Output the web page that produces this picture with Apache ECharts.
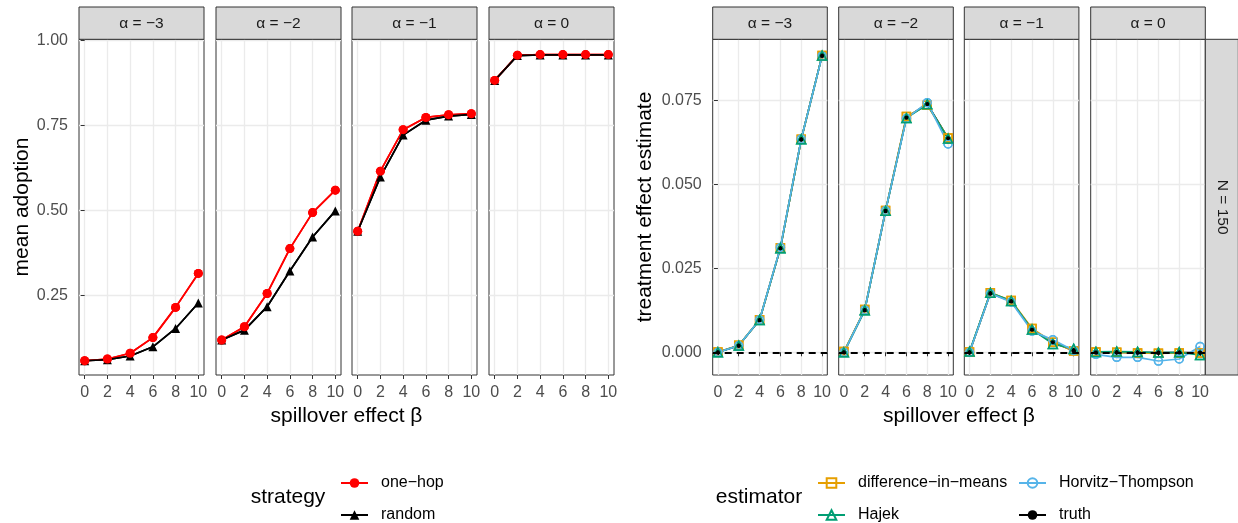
<!DOCTYPE html>
<html>
<head>
<meta charset="utf-8">
<script src="https://cdn.jsdelivr.net/npm/echarts@6/dist/echarts.min.js"></script>
<style>html,body{margin:0;padding:0;background:#fff;}#c{width:1238px;height:523px;}</style>
</head>
<body>
<div id="c"></div>
<script>
// ---- data ----
const beta = [0, 2, 4, 6, 8, 10];
const xTicks = [0, 2, 4, 6, 8, 10];
const panelLabels = ['α = −3', 'α = −2', 'α = −1', 'α = 0'];
const leftYTicks = [0.25, 0.50, 0.75, 1.00];
const rightYTicks = [0, 0.025, 0.05, 0.075];

// mean adoption (left)
const oneHopA3 = [0.057, 0.062, 0.079, 0.125, 0.214, 0.314];
const randomA3 = [0.057, 0.060, 0.071, 0.098, 0.152, 0.227];
const oneHopA2 = [0.118, 0.157, 0.255, 0.387, 0.493, 0.559];
const randomA2 = [0.118, 0.147, 0.216, 0.321, 0.421, 0.498];
const oneHopA1 = [0.438, 0.615, 0.737, 0.773, 0.781, 0.784];
const randomA1 = [0.438, 0.598, 0.721, 0.765, 0.777, 0.782];
const oneHopA0 = [0.882, 0.956, 0.958, 0.958, 0.958, 0.958];
const randomA0 = [0.882, 0.955, 0.957, 0.957, 0.957, 0.957];

// treatment effect estimates (right)
const truthA3 = [0.0000, 0.0020, 0.0096, 0.0310, 0.0634, 0.0883];
const dimA3   = [0.0001, 0.0021, 0.0097, 0.0311, 0.0634, 0.0883];
const hajekA3 = [0.0000, 0.0020, 0.0096, 0.0310, 0.0634, 0.0883];
const htA3    = [0.0000, 0.0020, 0.0097, 0.0312, 0.0635, 0.0882];
const truthA2 = [0.0000, 0.0126, 0.0421, 0.0699, 0.0739, 0.0637];
const dimA2   = [0.0002, 0.0127, 0.0422, 0.0702, 0.0735, 0.0638];
const hajekA2 = [0.0000, 0.0125, 0.0421, 0.0697, 0.0738, 0.0636];
const htA2    = [0.0000, 0.0126, 0.0422, 0.0696, 0.0743, 0.0620];
const truthA1 = [0.0000, 0.0176, 0.0152, 0.0068, 0.0030, 0.0005];
const dimA1   = [0.0001, 0.0177, 0.0154, 0.0071, 0.0030, 0.0004];
const hajekA1 = [0.0002, 0.0177, 0.0153, 0.0068, 0.0025, 0.0010];
const htA1    = [0.0000, 0.0175, 0.0150, 0.0063, 0.0037, 0.0005];
const truthA0 = [0.0000, 0.0000, -0.0001, -0.0001, -0.0001, -0.0001];
const dimA0   = [0.0001, 0.0000, -0.0002, -0.0003, -0.0002, -0.0002];
const hajekA0 = [0.0001, 0.0002, 0.0001, -0.0001, 0.0000, -0.0008];
const htA0    = [-0.0006, -0.0015, -0.0015, -0.0026, -0.0020, 0.0017];

const leftPanels = [[oneHopA3, randomA3], [oneHopA2, randomA2], [oneHopA1, randomA1], [oneHopA0, randomA0]];
const rightPanels = [[dimA3, hajekA3, htA3, truthA3], [dimA2, hajekA2, htA2, truthA2],
                     [dimA1, hajekA1, htA1, truthA1], [dimA0, hajekA0, htA0, truthA0]];

// ---- layout / style ----
const FONT = 'Liberation Sans, Arial, Helvetica, sans-serif';
const leftX = [79, 216, 352, 489], leftW = 125;
const rightX = [712.7, 838.7, 964.3, 1090.7], rightW = 114.6;
const panelTop = 39.3, panelH = 335.7;
const stripTop = 7, stripH = 32.3;

const NAMES = {oh: 'one−hop', rnd: 'random', dim: 'difference−in−means', haj: 'Hajek', ht: 'Horvitz−Thompson', tr: 'truth'};
const COL = {oh: '#FF0000', rnd: '#000000', dim: '#E69F00', haj: '#009E73', ht: '#56B4E9', tr: '#000000'};
const OPEN = {dim: true, haj: true, ht: true};

const grids = [], xAxes = [], yAxes = [], series = [], graphics = [];

function pts(vals) { return beta.map((b, k) => [b, vals[k]]); }

function addPanel(gi, x, w, isLeft, showY) {
  grids.push({left: x, top: panelTop, width: w, height: panelH, show: true,
    borderColor: '#333333', borderWidth: 1, backgroundColor: '#ffffff', containLabel: false});
  xAxes.push({type: 'value', gridIndex: gi, min: -0.5, max: 10.5,
    axisLine: {show: false},
    axisTick: {show: true, length: 4, lineStyle: {color: '#333333', width: 1}, customValues: xTicks},
    axisLabel: {show: true, customValues: xTicks, color: '#4D4D4D', fontSize: 16, fontFamily: FONT, margin: 10},
    splitLine: {show: true, lineStyle: {color: '#EBEBEB', width: 1.3}}
  });
  const yt = isLeft ? leftYTicks : rightYTicks;
  yAxes.push({type: 'value', gridIndex: gi,
    min: isLeft ? 0.015 : -0.00676, max: isLeft ? 1.003 : 0.09315,
    axisLine: {show: false},
    axisTick: {show: showY, length: 4, lineStyle: {color: '#333333', width: 1}, customValues: yt},
    axisLabel: {show: showY, customValues: yt, color: '#4D4D4D', fontSize: 16, fontFamily: FONT, margin: 11,
      formatter: v => isLeft ? v.toFixed(2) : v.toFixed(3)},
    splitLine: {show: true, lineStyle: {color: '#EBEBEB', width: 1.3}}
  });
  graphics.push({type: 'rect', shape: {x: x, y: stripTop, width: w, height: stripH},
    style: {fill: '#D9D9D9', stroke: '#333333', lineWidth: 1}, z: 10});
}

function mainSeries(key, vals, gi, symbol, size, extra) {
  const open = !!OPEN[key];
  return Object.assign({
    type: 'line', name: NAMES[key], xAxisIndex: gi, yAxisIndex: gi, data: pts(vals),
    symbol: symbol, symbolSize: size, showSymbol: true,
    lineStyle: {color: COL[key], width: 1.7},
    itemStyle: {color: open ? 'rgba(0,0,0,0)' : COL[key], borderColor: COL[key], borderWidth: open ? 1.5 : 0},
    emphasis: {disabled: true}, animation: false, silent: true
  }, extra || {});
}

// left panels
for (let p = 0; p < 4; p++) {
  const gi = p;
  addPanel(gi, leftX[p], leftW, true, p === 0);
  const [oh, rnd] = leftPanels[p];
  series.push(mainSeries('oh', oh, gi, 'circle', 9));
  series.push(mainSeries('rnd', rnd, gi, 'triangle', 9));
  // lines over the points; one-hop dots over the triangles
  series.push(mainSeries('oh', oh, gi, 'circle', 9, {lineStyle: {opacity: 0, width: 0}}));
  series.push(mainSeries('oh', oh, gi, 'none', 0, {showSymbol: false}));
  series.push(mainSeries('rnd', rnd, gi, 'none', 0, {showSymbol: false}));
}

// right panels
for (let p = 0; p < 4; p++) {
  const gi = 4 + p;
  addPanel(gi, rightX[p], rightW, false, p === 0);
  const [dim, haj, ht, tr] = rightPanels[p];
  series.push(mainSeries('tr', tr, gi, 'circle', 5, {
    markLine: {silent: true, symbol: 'none', animation: false, label: {show: false},
      lineStyle: {color: '#000000', width: 2, type: [7, 5], opacity: 1}, data: [{yAxis: 0}]}
  }));
  series.push(mainSeries('dim', dim, gi, 'rect', 8));
  series.push(mainSeries('haj', haj, gi, 'triangle', 9));
  series.push(mainSeries('ht', ht, gi, 'circle', 8));
  // points drawn over the lines
  const ptsOnly = {lineStyle: {opacity: 0, width: 0}};
  series.push(mainSeries('dim', dim, gi, 'rect', 8, ptsOnly));
  series.push(mainSeries('ht', ht, gi, 'circle', 8, ptsOnly));
  series.push(mainSeries('haj', haj, gi, 'triangle', 9, ptsOnly));
  series.push(mainSeries('tr', tr, gi, 'circle', 4, ptsOnly));
}

// strip labels
for (let p = 0; p < 4; p++) {
  graphics.push({type: 'text', x: leftX[p] + leftW / 2, y: stripTop + stripH / 2 + 0.5, z: 11,
    style: {text: panelLabels[p], fill: '#1A1A1A', font: '15.5px ' + FONT, align: 'center', verticalAlign: 'middle'}});
  graphics.push({type: 'text', x: rightX[p] + rightW / 2, y: stripTop + stripH / 2 + 0.5, z: 11,
    style: {text: panelLabels[p], fill: '#1A1A1A', font: '15.5px ' + FONT, align: 'center', verticalAlign: 'middle'}});
}
// right facet strip
graphics.push({type: 'rect', shape: {x: 1205.3, y: panelTop, width: 33, height: panelH},
  style: {fill: '#D9D9D9', stroke: '#333333', lineWidth: 1}, z: 10});
graphics.push({type: 'text', x: 1222, y: panelTop + panelH / 2, rotation: -Math.PI / 2, z: 11,
  style: {text: 'N = 150', fill: '#1A1A1A', font: '15.5px ' + FONT, align: 'center', verticalAlign: 'middle'}});

// axis titles
function txt(t, x, y, rot, size) {
  graphics.push({type: 'text', x: x, y: y, rotation: rot || 0, z: 11,
    style: {text: t, fill: '#000000', font: size + 'px ' + FONT, align: 'center', verticalAlign: 'middle'}});
}
txt('mean adoption', 22, 207, Math.PI / 2, 21);
txt('treatment effect estimate', 645, 207, Math.PI / 2, 21);
txt('spillover effect β', 346.5, 416, 0, 21);
txt('spillover effect β', 959, 416, 0, 21);
txt('strategy', 288, 497, 0, 21);
txt('estimator', 759, 497, 0, 21);

function leg(name, left, centerY) {
  return {orient: 'vertical', itemWidth: 27, itemHeight: 12, padding: 0, left: left, top: centerY - 6,
    textStyle: {fontSize: 16, color: '#000000', fontFamily: FONT, padding: [0, 0, 0, 8]},
    selectedMode: false, data: [name]};
}

const option = {
  animation: false,
  backgroundColor: '#ffffff',
  grid: grids, xAxis: xAxes, yAxis: yAxes, series: series,
  legend: [
    leg(NAMES.oh, 340, 481), leg(NAMES.rnd, 340, 513),
    leg(NAMES.dim, 817, 481), leg(NAMES.haj, 817, 513),
    leg(NAMES.ht, 1018, 481), leg(NAMES.tr, 1018, 513)
  ],
  graphic: graphics
};

const chart = echarts.init(document.getElementById('c'), null, {renderer: 'canvas'});
chart.setOption(option);
</script>
</body>
</html>
